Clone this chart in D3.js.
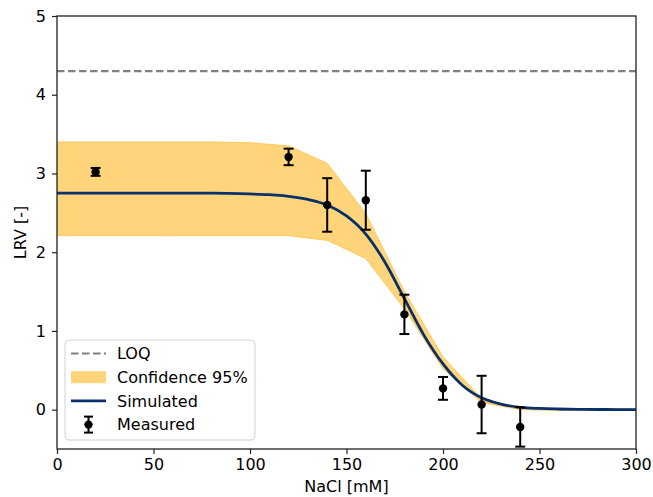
<!DOCTYPE html>
<html>
<head>
<meta charset="utf-8">
<script src="https://cdn.jsdelivr.net/npm/d3@7"></script>
<style>
  body { margin: 0; background: #fff; }
  svg text { font-family: "DejaVu Sans", sans-serif; fill: #000; }
</style>
</head>
<body>
<svg id="chart" width="653" height="497"></svg>
<script>
// Measured LRV points with error bars
const measX = [20, 120, 140, 160, 180, 200, 220, 240];
const measY = [3.02, 3.21, 2.60, 2.66, 1.21, 0.27, 0.065, -0.22];
const measErr = [0.05, 0.105, 0.34, 0.375, 0.25, 0.145, 0.365, 0.25];

// Confidence band (95%)
const bandX = [0, 20, 40, 60, 80, 100, 120, 140, 160, 180, 200, 220, 240, 260, 280, 300];
const bandUpper = [3.40, 3.40, 3.40, 3.40, 3.40, 3.39, 3.35, 3.13, 2.49, 1.50, 0.67, 0.14, 0.02, 0.01, 0.01, 0.01];
const bandLower = [2.21, 2.21, 2.21, 2.21, 2.21, 2.21, 2.21, 2.15, 1.92, 1.28, 0.52, 0.09, 0.0, -0.01, -0.01, -0.01];

// Simulated curve
const simX = [0, 20, 40, 60, 80, 100, 110, 120, 130, 140, 150, 160, 170, 180, 190, 200, 210, 220, 230, 240, 250, 260, 270, 280, 290, 300];
const simY = [2.75, 2.75, 2.75, 2.75, 2.75, 2.74, 2.73, 2.71, 2.67, 2.60, 2.46, 2.23, 1.87, 1.41, 0.95, 0.58, 0.31, 0.15, 0.07, 0.03, 0.015, 0.008, 0.004, 0.002, 0.001, 0.0];

const loq = 4.3;
const xTicks = [0, 50, 100, 150, 200, 250, 300];
const yTicks = [0, 1, 2, 3, 4, 5];

const margin = {top: 16, right: 17, bottom: 48, left: 57},
      width = 653 - margin.left - margin.right,
      height = 497 - margin.top - margin.bottom;

const svg = d3.select("#chart")
    .append("g")
    .attr("transform", `translate(${margin.left},${margin.top})`);

const x = d3.scaleLinear().domain([0, 300]).range([0, width]);
const y = d3.scaleLinear().domain([-0.5, 5]).range([height, 0]);

svg.append("clipPath").attr("id", "clip")
    .append("rect").attr("width", width).attr("height", height);

const plot = svg.append("g").attr("clip-path", "url(#clip)");

// LOQ line
plot.append("line")
    .attr("x1", x(0)).attr("x2", x(300))
    .attr("y1", y(loq)).attr("y2", y(loq))
    .attr("stroke", "#808080")
    .attr("stroke-width", 2.2)
    .attr("stroke-dasharray", "7.5,3.5");

// confidence band
const band = bandX.map((d, i) => ({x: d, lo: bandLower[i], hi: bandUpper[i]}));
plot.append("path")
    .datum(band)
    .attr("fill", "#ffd47a")
    .attr("stroke", "#fdca5c")
    .attr("stroke-width", 1)
    .attr("d", d3.area()
        .x(d => x(d.x))
        .y0(d => y(d.lo))
        .y1(d => y(d.hi)));

// simulated line
const sim = simX.map((d, i) => ({x: d, y: simY[i]}));
plot.append("path")
    .datum(sim)
    .attr("fill", "none")
    .attr("stroke", "#08306b")
    .attr("stroke-width", 2.8)
    .attr("d", d3.line()
        .x(d => x(d.x))
        .y(d => y(d.y))
        .curve(d3.curveMonotoneX));

// measured points with error bars
const meas = measX.map((d, i) => ({x: d, y: measY[i], e: measErr[i]}));
const pts = plot.selectAll(".meas")
    .data(meas)
    .enter()
    .append("g")
    .attr("class", "meas")
    .attr("stroke", "#000")
    .attr("stroke-width", 2);

pts.append("line")
    .attr("x1", d => x(d.x)).attr("x2", d => x(d.x))
    .attr("y1", d => y(d.y - d.e)).attr("y2", d => y(d.y + d.e));
pts.append("line")
    .attr("x1", d => x(d.x) - 5).attr("x2", d => x(d.x) + 5)
    .attr("y1", d => y(d.y - d.e)).attr("y2", d => y(d.y - d.e));
pts.append("line")
    .attr("x1", d => x(d.x) - 5).attr("x2", d => x(d.x) + 5)
    .attr("y1", d => y(d.y + d.e)).attr("y2", d => y(d.y + d.e));
pts.append("circle")
    .attr("cx", d => x(d.x)).attr("cy", d => y(d.y))
    .attr("r", 4.2)
    .attr("fill", "#000")
    .attr("stroke", "none");

// axes
const xAxis = svg.append("g")
    .attr("transform", `translate(0,${height})`)
    .call(d3.axisBottom(x).tickValues(xTicks).tickFormat(d3.format("d")).tickSize(5).tickPadding(5));
const yAxis = svg.append("g")
    .call(d3.axisLeft(y).tickValues(yTicks).tickFormat(d3.format("d")).tickSize(5).tickPadding(6));

[xAxis, yAxis].forEach(a => {
    a.select(".domain").remove();
    a.selectAll("line").attr("stroke", "#222").attr("stroke-width", 1.2);
    a.selectAll("text").attr("font-size", 16).attr("font-family", "DejaVu Sans");
});

// frame
svg.append("rect")
    .attr("width", width).attr("height", height)
    .attr("fill", "none")
    .attr("stroke", "#222")
    .attr("stroke-width", 1.3);

// axis labels
svg.append("text")
    .attr("x", width / 2)
    .attr("y", height + 43)
    .attr("text-anchor", "middle")
    .attr("font-size", 16)
    .text("NaCl [mM]");

svg.append("text")
    .attr("transform", "rotate(-90)")
    .attr("x", -height / 2)
    .attr("y", -31)
    .attr("text-anchor", "middle")
    .attr("font-size", 16)
    .text("LRV [-]");

// legend
const legend = svg.append("g").attr("transform", "translate(8,324)");
legend.append("rect")
    .attr("width", 190).attr("height", 100)
    .attr("rx", 4)
    .attr("fill", "#fff").attr("fill-opacity", 0.8)
    .attr("stroke", "#d0d0d0");

const items = ["LOQ", "Confidence 95%", "Simulated", "Measured"];
items.forEach((label, i) => {
    const g = legend.append("g").attr("transform", `translate(0,${13.5 + i * 23.7})`);
    if (i === 0) {
        g.append("line").attr("x1", 6).attr("x2", 41)
            .attr("stroke", "#808080").attr("stroke-width", 2.2)
            .attr("stroke-dasharray", "7.5,3.5");
    } else if (i === 1) {
        g.append("rect").attr("x", 6).attr("y", -6).attr("width", 35).attr("height", 12)
            .attr("fill", "#ffd47a");
    } else if (i === 2) {
        g.append("line").attr("x1", 6).attr("x2", 41)
            .attr("stroke", "#08306b").attr("stroke-width", 2.8);
    } else {
        g.append("line").attr("x1", 23.5).attr("x2", 23.5).attr("y1", -8).attr("y2", 8)
            .attr("stroke", "#000").attr("stroke-width", 2);
        g.append("line").attr("x1", 19).attr("x2", 28).attr("y1", -8).attr("y2", -8)
            .attr("stroke", "#000").attr("stroke-width", 2);
        g.append("line").attr("x1", 19).attr("x2", 28).attr("y1", 8).attr("y2", 8)
            .attr("stroke", "#000").attr("stroke-width", 2);
        g.append("circle").attr("cx", 23.5).attr("r", 4.2).attr("fill", "#000");
    }
    g.append("text")
        .attr("x", 52)
        .attr("dy", "0.35em")
        .attr("font-size", 16)
        .text(label);
});
</script>
</body>
</html>
